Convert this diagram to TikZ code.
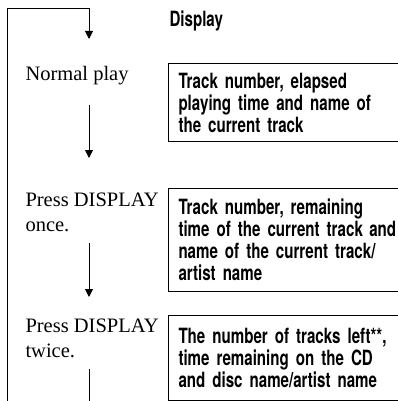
\documentclass[tikz,border=0pt]{standalone}
\usepackage{fontspec}
\setmainfont{Liberation Serif}
\newfontfamily\condsans{TeX Gyre Heros}[FakeStretch=0.72]
\usetikzlibrary{arrows.meta,positioning}

\begin{document}
\begin{tikzpicture}[x=1pt,y=-1pt,line width=1pt,>={Triangle[width=8pt,length=8pt]}]
       \tikzstyle{step label}=[anchor=base west,inner sep=0pt,align=left,font=\fontsize{20.5}{24.5}\selectfont]
       \tikzstyle{info box}=[draw,anchor=north west,inner xsep=10pt,inner ysep=0pt,text width=230pt,align=left,font=\condsans\bfseries\fontsize{21}{22}\selectfont]

       \useasboundingbox (0,0) rectangle (397,401);

       % multi-line labels sit on their last baseline
       \node[step label] (normal) at (25,81)  {Normal play};
       \node[step label] (once)   at (25,231) {Press DISPLAY\\once.};
       \node[step label] (twice)  at (25,357) {Press DISPLAY\\twice.};

       % trailing space lifts the text towards the top rule
       \node[info box,minimum height=78pt]  (elapsed) at (168,63)  {Track number, elapsed\\playing time and name of\\the current track\par\vspace{5pt}};
       \node[info box,minimum height=103pt] (remain)  at (168,188) {Track number, remaining\\time of the current track\hspace{0.3em}and\\name of the current track/\\artist name\par\vspace{5pt}};
       \node[info box,minimum height=85pt]  (disc)    at (168,315) {The number of tracks left**,\\time remaining on the CD\\and disc name/artist name\par\vspace{10pt}};

       \node[anchor=base west,inner sep=0pt,font=\condsans\bfseries\fontsize{21}{22}\selectfont] (header) at (169,27) {Display};

       \coordinate (loopfoot) at (7,401);
       \coordinate (loopend)  at (89,39);
       \coordinate (out0) at (89,105);
       \coordinate (in1)  at (89,158);
       \coordinate (out1) at (89,243);
       \coordinate (in2)  at (89,297);
       \coordinate (out2) at (89,369);
       \coordinate (foot) at (89,401);

       \draw[->] (loopfoot) |- (89,9) -- (loopend);
       \draw[->] (out0) -- (in1);
       \draw[->] (out1) -- (in2);
       \draw (out2) -- (foot);
\end{tikzpicture}
\end{document}
